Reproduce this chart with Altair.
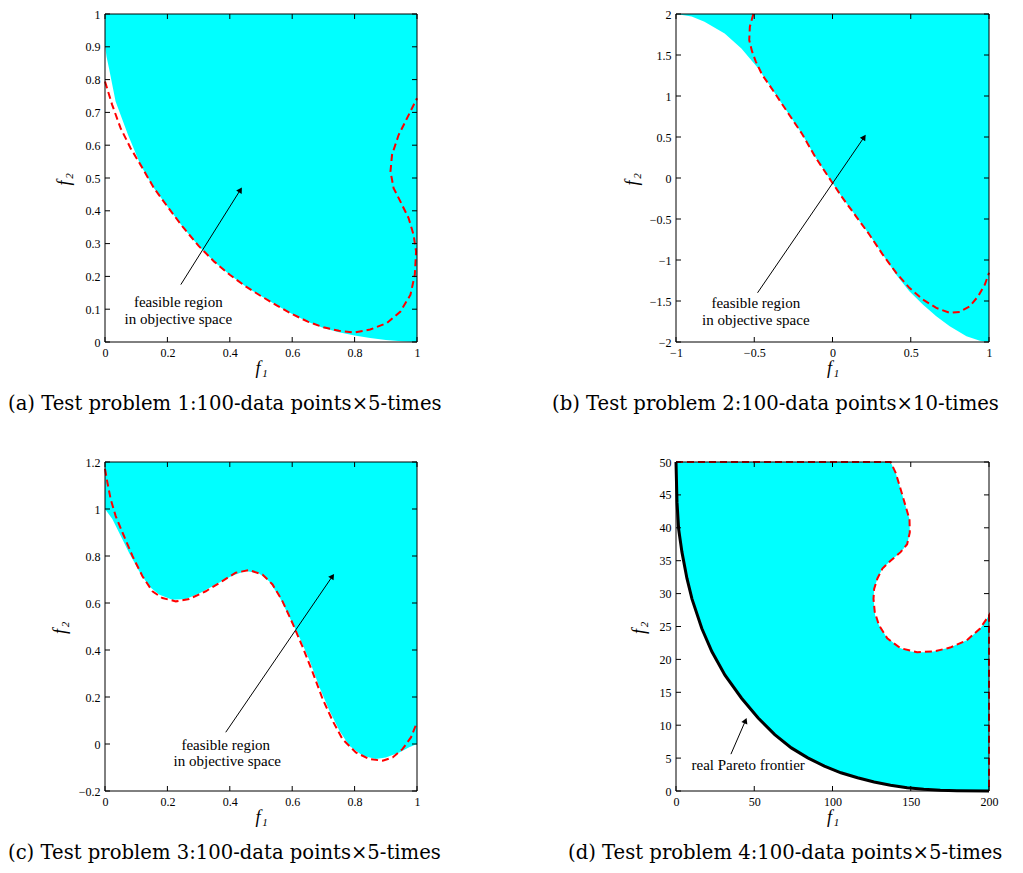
import math
import altair as alt
import pandas as pd

# ---------------- data ----------------
# Panel (a)
a_xticks = [0, 0.2, 0.4, 0.6, 0.8, 1]
a_yticks = [0, 0.1, 0.2, 0.3, 0.4, 0.5, 0.6, 0.7, 0.8, 0.9, 1]
a_area_x = [0, 0.005, 0.013, 0.034, 0.074, 0.114, 0.157, 0.2, 0.25, 0.3, 0.35, 0.4, 0.45,
            0.5, 0.55, 0.6, 0.65, 0.7, 0.75, 0.8, 0.85, 0.9, 0.95, 1.0]
a_area_y = [0.905, 0.87, 0.834, 0.733, 0.631, 0.54, 0.469, 0.413, 0.35, 0.293, 0.245, 0.205,
            0.17, 0.14, 0.112, 0.085, 0.062, 0.043, 0.03, 0.02, 0.012, 0.006, 0.002, 0.0]
a_red_x = [0.0, 0.023, 0.05, 0.082, 0.114, 0.157, 0.2, 0.25, 0.3, 0.35, 0.4, 0.45, 0.5, 0.55,
           0.6, 0.65, 0.7, 0.75, 0.8, 0.85, 0.904, 0.947, 0.979, 0.993, 0.997, 0.989,
           0.973, 0.947, 0.925, 0.915, 0.92, 0.941, 0.968, 1.0]
a_red_y = [0.794, 0.723, 0.652, 0.591, 0.54, 0.469, 0.413, 0.35, 0.293, 0.245, 0.205, 0.17,
           0.14, 0.112, 0.085, 0.062, 0.045, 0.034, 0.029, 0.038, 0.058, 0.093, 0.144, 0.205,
           0.276, 0.327, 0.378, 0.428, 0.469, 0.52, 0.571, 0.631, 0.682, 0.743]
a_arrow = [0.243, 0.175, 0.434, 0.464]          # tail x, tail y, head x, head y
a_text_x = [0.235, 0.235]
a_text_y = [0.122, 0.071]
a_text = ["feasible region", "in objective space"]

# Panel (b)
b_xticks = [-1, -0.5, 0, 0.5, 1]
b_yticks = [-2, -1.5, -1, -0.5, 0, 0.5, 1, 1.5, 2]
b_area_x = [-1, -0.9, -0.818, -0.689, -0.582, -0.474, -0.388, -0.281, -0.195, -0.109, -0.024,
            0.062, 0.148, 0.234, 0.32, 0.406, 0.491, 0.577, 0.663, 0.749, 0.856, 0.942, 1.0]
b_area_y = [2.0, 1.97, 1.906, 1.763, 1.58, 1.335, 1.09, 0.784, 0.539, 0.253, 0.008, -0.237,
            -0.461, -0.686, -0.931, -1.176, -1.38, -1.543, -1.686, -1.808, -1.931, -1.984, -2.0]
b_red_x = [-0.506, -0.528, -0.532, -0.515, -0.49, -0.45, -0.388, -0.281, -0.195, -0.109, -0.024,
           0.062, 0.148, 0.234, 0.32, 0.406, 0.491, 0.577, 0.663, 0.749, 0.813, 0.878, 0.931,
           0.974, 1.0]
b_red_y = [2.0, 1.845, 1.682, 1.55, 1.42, 1.26, 1.09, 0.784, 0.539, 0.253, 0.008, -0.237, -0.461,
           -0.686, -0.931, -1.155, -1.339, -1.482, -1.584, -1.645, -1.633, -1.563, -1.441,
           -1.298, -1.155]
b_arrow = [-0.479, -1.4, 0.202, 0.498]
b_text_x = [-0.49, -0.49]
b_text_y = [-1.522, -1.735]
b_text = ["feasible region", "in objective space"]

# Panel (c)
c_xticks = [0, 0.2, 0.4, 0.6, 0.8, 1]
c_yticks = [-0.2, 0, 0.2, 0.4, 0.6, 0.8, 1, 1.2]
c_area_x = [0, 0.0235, 0.045, 0.077, 0.109, 0.141, 0.173, 0.216, 0.259, 0.302, 0.355, 0.409,
            0.451, 0.494, 0.526, 0.558, 0.59, 0.622, 0.655, 0.687, 0.719, 0.751, 0.783, 0.826,
            0.868, 0.9, 0.943, 0.975, 1.0]
c_area_y = [1.0, 0.957, 0.9, 0.814, 0.736, 0.671, 0.636, 0.614, 0.617, 0.64, 0.679, 0.717,
            0.736, 0.726, 0.693, 0.629, 0.543, 0.457, 0.357, 0.243, 0.143, 0.057, -0.007,
            -0.05, -0.064, -0.057, -0.036, -0.014, 0.0]
c_red_x = [0, 0.0075, 0.018, 0.034, 0.056, 0.088, 0.12, 0.152, 0.184, 0.227, 0.27, 0.323,
           0.376, 0.419, 0.462, 0.505, 0.537, 0.569, 0.601, 0.633, 0.665, 0.697, 0.729, 0.761,
           0.804, 0.847, 0.89, 0.922, 0.954, 0.981, 1.0]
c_red_y = [1.171, 1.114, 1.043, 0.971, 0.9, 0.8, 0.714, 0.65, 0.621, 0.607, 0.617, 0.65,
           0.693, 0.729, 0.74, 0.721, 0.679, 0.607, 0.514, 0.414, 0.307, 0.193, 0.1, 0.021,
           -0.036, -0.064, -0.071, -0.057, -0.021, 0.029, 0.093]
c_arrow = [0.387, 0.05, 0.729, 0.714]
c_text_x = [0.387, 0.392]
c_text_y = [-0.003, -0.074]
c_text = ["feasible region", "in objective space"]

# Panel (d)
d_xticks = [0, 50, 100, 150, 200]
d_yticks = [0, 5, 10, 15, 20, 25, 30, 35, 40, 45, 50]
d_pareto_x = [0, 0.63, 1.69, 3.8, 7.0, 10.2, 16.5, 22.9, 31.3, 41.9, 52.5, 63.1, 73.7, 84.2,
              94.8, 105.4, 116, 126.6, 137.1, 147.7, 158.3, 168.9, 179.5, 200]
d_pareto_y = [50, 43.9, 39.8, 36.3, 32.3, 29.2, 24.7, 21.2, 17.6, 14.1, 11.1, 8.57, 6.55, 5.04,
              3.78, 2.77, 2.02, 1.36, 0.86, 0.5, 0.25, 0.1, 0.05, 0]
d_red_x = [0, 137.1, 140.3, 143.5, 146.7, 149.2, 149.4, 147.7, 143.5, 137.1, 131.9, 128.7,
           126.6, 126.2, 127.0, 129.7, 135.0, 143.5, 154.1, 164.7, 175.2, 185.8, 194.3, 200, 200]
d_red_y = [50, 50, 48.4, 45.9, 43.3, 41.3, 39.3, 37.5, 36.3, 35.0, 33.8, 32.3, 30.7, 29.2,
           27.2, 25.2, 23.2, 21.7, 21.1, 21.2, 21.8, 22.9, 24.7, 26.7, 0]
d_notch_y = [21.1, 21.2, 21.7, 21.8, 22.9, 23.2, 24.7, 25.2, 26.7, 27.2, 29.2, 30.7, 32.3,
             33.8, 35.0, 36.3, 37.5, 39.3, 41.3, 43.3, 45.9, 48.4, 50]
d_notch_left = [154.1, 150, 143.5, 142.5, 137, 135, 131, 129.7, 127.2, 127.0, 126.2, 126.6,
                128.7, 131.9, 137.1, 143.5, 147.7, 149.4, 149.2, 146.7, 143.5, 140.3, 137.1]
d_notch_right = [158, 164.7, 173, 175.2, 185.8, 187.5, 194.3, 196, 200, 200, 200, 200, 200,
                 200, 200, 200, 200, 200, 200, 200, 200, 200, 200]
d_arrow = [35.1, 5.6, 44.4, 10.7]
d_text_x = [46.1]
d_text_y = [3.9]
d_text = ["real Pareto frontier"]

captions = [
    "(a) Test problem 1:100-data points×5-times",
    "(b) Test problem 2:100-data points×10-times",
    "(c) Test problem 3:100-data points×5-times",
    "(d) Test problem 4:100-data points×5-times",
]
axis_name = "f"
x_sub = "1"
y_sub = "2"

# ---------------- styling ----------------
CYAN = "#00FFFF"
RED = "#FF0000"
SERIF = "Liberation Serif"
CAPFONT = "DejaVu Serif"
TICK = 5


def make_axis(ticks):
    return alt.Axis(values=ticks, title="", format="~r", grid=False, ticks=False,
                    domain=False, labelFont=SERIF, labelFontSize=12, labelColor="black",
                    labelPadding=5, labelFlush=False, labelOverlap=False)


class Frame:
    def __init__(self, xdom, ydom, xticks, yticks):
        self.xdom, self.ydom = xdom, ydom
        self.xaxis = make_axis(xticks)
        self.yaxis = make_axis(yticks)

    def x(self, field):
        return alt.X(field, type="quantitative", title="",
                     scale=alt.Scale(domain=self.xdom, nice=False, zero=False),
                     axis=self.xaxis)

    def y(self, field):
        return alt.Y(field, type="quantitative", title="",
                     scale=alt.Scale(domain=self.ydom, nice=False, zero=False),
                     axis=self.yaxis)


def label_text(one, txt, x, y, size, angle=0):
    return alt.Chart(one).mark_text(font=SERIF, fontSize=size, fontStyle="italic",
                                    color="black", align="center", baseline="middle",
                                    angle=angle).encode(
        x=alt.value(x), y=alt.value(y), text=alt.value(txt))


def panel(fr, W, H, xticks, yticks, area_x, area_y, red_x, red_y, arrow,
          tx, ty, texts, caption, cap_dx, ytitle_dx, extra_under=None, extra_over=None):
    xdom, ydom = fr.xdom, fr.ydom
    one = pd.DataFrame({"k": [0]})
    layers = []
    area_df = pd.DataFrame({"x": area_x, "y": area_y})
    layers.append(
        alt.Chart(area_df).mark_area(color=CYAN, opacity=1, interpolate="linear").encode(
            x=fr.x("x"), y=fr.y("y"), y2=alt.datum(ydom[1]))
    )
    if extra_under:
        layers.extend(extra_under)
    red_df = pd.DataFrame({"x": red_x, "y": red_y, "i": list(range(len(red_x)))})
    layers.append(
        alt.Chart(red_df).mark_line(color=RED, strokeWidth=2, strokeDash=[7, 4]).encode(
            x=fr.x("x"), y=fr.y("y"), order=alt.Order("i:Q"))
    )
    if extra_over:
        layers.extend(extra_over)
    # annotation arrow
    t_x, t_y, h_x, h_y = arrow
    arr_df = pd.DataFrame({"x": [t_x], "y": [t_y], "x2": [h_x], "y2": [h_y]})
    layers.append(
        alt.Chart(arr_df).mark_rule(color="black", strokeWidth=1).encode(
            x=fr.x("x"), y=fr.y("y"), x2="x2", y2="y2")
    )
    dxp = (h_x - t_x) / (xdom[1] - xdom[0]) * W
    dyp = (h_y - t_y) / (ydom[1] - ydom[0]) * H
    ang = math.degrees(math.atan2(dxp, dyp)) % 360
    head_df = pd.DataFrame({"x": [h_x], "y": [h_y]})
    layers.append(
        alt.Chart(head_df).mark_point(shape="triangle-up", filled=True, color="black",
                                      opacity=1, size=42, angle=ang).encode(
            x=fr.x("x"), y=fr.y("y"))
    )
    txt_df = pd.DataFrame({"x": tx, "y": ty, "t": texts})
    layers.append(
        alt.Chart(txt_df).mark_text(font=SERIF, fontSize=15, color="black", align="center",
                                    baseline="middle").encode(
            x=fr.x("x"), y=fr.y("y"), text="t:N")
    )
    # inward ticks on all four sides
    xt = pd.DataFrame({"x": xticks})
    yt = pd.DataFrame({"y": yticks})
    layers.append(alt.Chart(xt).mark_rule(color="black", strokeWidth=1).encode(
        x=fr.x("x"), y=alt.value(H), y2=alt.value(H - TICK)))
    layers.append(alt.Chart(xt).mark_rule(color="black", strokeWidth=1).encode(
        x=fr.x("x"), y=alt.value(0), y2=alt.value(TICK)))
    layers.append(alt.Chart(yt).mark_rule(color="black", strokeWidth=1).encode(
        y=fr.y("y"), x=alt.value(0), x2=alt.value(TICK)))
    layers.append(alt.Chart(yt).mark_rule(color="black", strokeWidth=1).encode(
        y=fr.y("y"), x=alt.value(W), x2=alt.value(W - TICK)))
    # frame
    layers.append(alt.Chart(one).mark_rect(fillOpacity=0, stroke="black", strokeWidth=1).encode(
        x=alt.value(0), x2=alt.value(W), y=alt.value(0), y2=alt.value(H)))
    # axis titles f1 / f2 with real subscripts
    layers.append(label_text(one, axis_name, W / 2 - 3, H + 27, 18))
    layers.append(label_text(one, x_sub, W / 2 + 4, H + 32, 11))
    layers.append(label_text(one, axis_name, ytitle_dx, H / 2 + 5, 18, 270))
    layers.append(label_text(one, y_sub, ytitle_dx + 5, H / 2 - 2, 11, 270))
    # caption
    layers.append(alt.Chart(one).mark_text(font=CAPFONT, fontSize=19.6, color="black",
                                           align="left", baseline="middle").encode(
        x=alt.value(cap_dx), y=alt.value(H + 62), text=alt.value(caption)))
    return alt.layer(*layers).properties(width=W, height=H)


fa = Frame([0, 1], [0, 1], a_xticks, a_yticks)
fb = Frame([-1, 1], [-2, 2], b_xticks, b_yticks)
fc = Frame([0, 1], [-0.2, 1.2], c_xticks, c_yticks)
fd = Frame([0, 200], [0, 50], d_xticks, d_yticks)

pa = panel(fa, 312, 328, a_xticks, a_yticks, a_area_x, a_area_y, a_red_x, a_red_y,
           a_arrow, a_text_x, a_text_y, a_text, captions[0], -97, -40)
pb = panel(fb, 313, 328, b_xticks, b_yticks, b_area_x, b_area_y, b_red_x,
           b_red_y, b_arrow, b_text_x, b_text_y, b_text, captions[1], -124, -43)
pc = panel(fc, 312, 329, c_xticks, c_yticks, c_area_x, c_area_y, c_red_x,
           c_red_y, c_arrow, c_text_x, c_text_y, c_text, captions[2], -97, -44)

notch_df = pd.DataFrame({"y": d_notch_y, "x": d_notch_left, "xr": d_notch_right})
notch = alt.Chart(notch_df).mark_area(color="white", opacity=1, orient="horizontal").encode(
    y=fd.y("y"), x=fd.x("x"), x2="xr")
pareto_df = pd.DataFrame({"x": d_pareto_x, "y": d_pareto_y})
pareto = alt.Chart(pareto_df).mark_line(color="black", strokeWidth=3).encode(
    x=fd.x("x"), y=fd.y("y"))
pd_ = panel(fd, 313, 329, d_xticks, d_yticks, d_pareto_x, d_pareto_y, d_red_x,
            d_red_y, d_arrow, d_text_x, d_text_y, d_text, captions[3], -108, -36,
            extra_under=[notch], extra_over=[pareto])

chart = alt.concat(pa, pb, pc, pd_, columns=2, spacing={"row": 120, "column": 259},
                   bounds="flush").properties(
    padding={"left": 0, "top": 0, "right": 0, "bottom": 0}
).configure_view(strokeWidth=0)

chart.save("out.html", embed_options={"renderer": "svg", "actions": False})
